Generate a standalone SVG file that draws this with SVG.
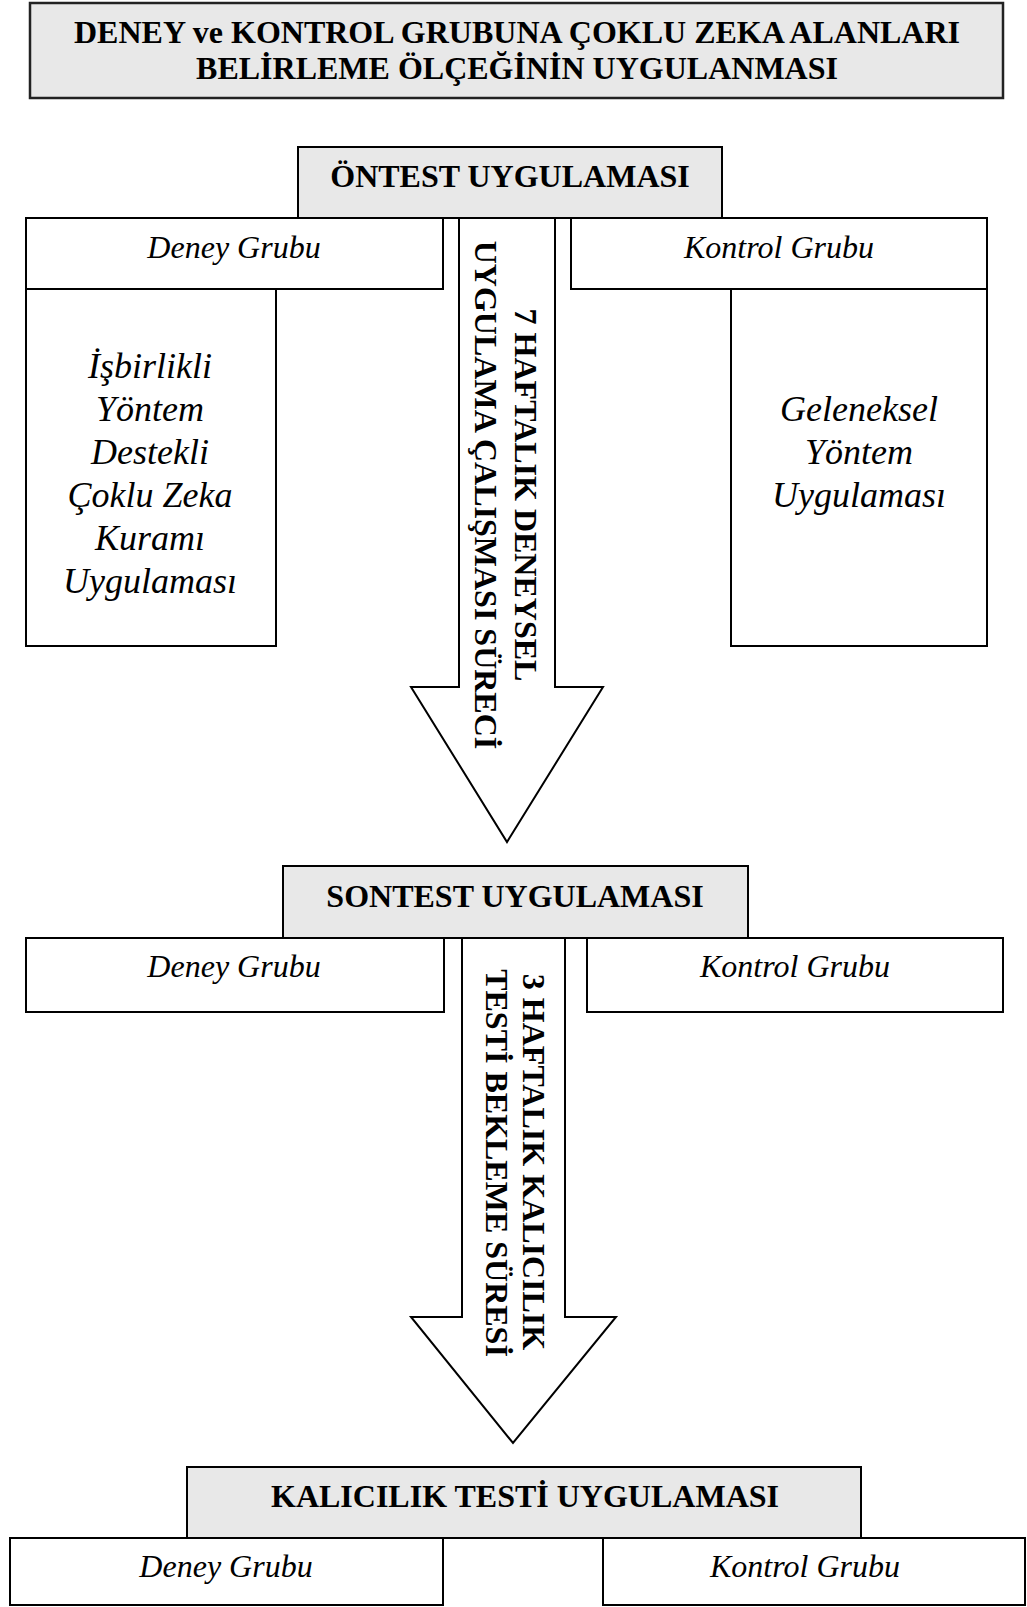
<svg xmlns="http://www.w3.org/2000/svg" width="1027" height="1607" viewBox="0 0 1027 1607">
<style>
.box{fill:#ffffff;stroke:#000;stroke-width:2}
.head{fill:#e8e8e8;stroke:#000;stroke-width:2}
.title{fill:#e8e8e8;stroke:#222;stroke-width:2.5}
.arrow{fill:#ffffff;stroke:#000;stroke-width:2;stroke-linejoin:miter}
.b{font-family:"Liberation Serif","Times New Roman",serif;font-weight:bold;font-size:32px;text-anchor:middle;fill:#000}
.i{font-family:"Liberation Serif","Times New Roman",serif;font-style:italic;font-size:32px;text-anchor:middle;fill:#000}
.il{font-family:"Liberation Serif","Times New Roman",serif;font-style:italic;font-size:36px;text-anchor:middle;fill:#000}
</style>
<rect width="1027" height="1607" fill="#ffffff"/>
<g id="connectors">
<polygon class="arrow" points="459,218 555,218 555,687 603,687 507,842 411,687 459,687"/>
<polygon class="arrow" points="462,938 565,938 565,1317 616,1317 513,1443 411,1317 462,1317"/>
<text class="b" transform="translate(515,495) rotate(90)">7 HAFTALIK DENEYSEL</text>
<text class="b" transform="translate(475,495) rotate(90)">UYGULAMA ÇALIŞMASI SÜRECİ</text>
<text class="b" transform="translate(523,1162) rotate(90)">3 HAFTALIK KALICILIK</text>
<text class="b" transform="translate(486,1163) rotate(90)">TESTİ BEKLEME SÜRESİ</text>
</g>
<g id="title">
<rect class="title" x="30" y="3" width="973" height="95"/>
<text class="b" x="517" y="43">DENEY ve KONTROL GRUBUNA ÇOKLU ZEKA ALANLARI</text>
<text class="b" x="517" y="79">BELİRLEME ÖLÇEĞİNİN UYGULANMASI</text>
</g>
<g id="ontest">
<rect class="head" x="298" y="147" width="424" height="71"/>
<text class="b" x="510" y="187">ÖNTEST UYGULAMASI</text>
</g>
<g id="deney1">
<rect class="box" x="26" y="218" width="417" height="71"/>
<text class="i" x="234" y="258">Deney Grubu</text>
</g>
<g id="kontrol1">
<rect class="box" x="571" y="218" width="416" height="71"/>
<text class="i" x="779" y="258">Kontrol Grubu</text>
</g>
<g id="deney-yontem">
<rect class="box" x="26" y="289" width="250" height="357"/>
<text class="il" x="150" y="378">İşbirlikli</text>
<text class="il" x="150" y="421">Yöntem</text>
<text class="il" x="150" y="464">Destekli</text>
<text class="il" x="150" y="507">Çoklu Zeka</text>
<text class="il" x="150" y="550">Kuramı</text>
<text class="il" x="150" y="593">Uygulaması</text>
</g>
<g id="kontrol-yontem">
<rect class="box" x="731" y="289" width="256" height="357"/>
<text class="il" x="859" y="421">Geleneksel</text>
<text class="il" x="859" y="464">Yöntem</text>
<text class="il" x="859" y="507">Uygulaması</text>
</g>
<g id="sontest">
<rect class="head" x="283" y="866" width="465" height="72"/>
<text class="b" x="515" y="907">SONTEST UYGULAMASI</text>
</g>
<g id="deney2">
<rect class="box" x="26" y="938" width="418" height="74"/>
<text class="i" x="234" y="977">Deney Grubu</text>
</g>
<g id="kontrol2">
<rect class="box" x="587" y="938" width="416" height="74"/>
<text class="i" x="795" y="977">Kontrol Grubu</text>
</g>
<g id="kalicilik">
<rect class="head" x="187" y="1467" width="674" height="71"/>
<text class="b" x="525" y="1507">KALICILIK TESTİ UYGULAMASI</text>
</g>
<g id="deney3">
<rect class="box" x="10" y="1538" width="433" height="67"/>
<text class="i" x="226" y="1577">Deney Grubu</text>
</g>
<g id="kontrol3">
<rect class="box" x="603" y="1538" width="422" height="67"/>
<text class="i" x="805" y="1577">Kontrol Grubu</text>
</g>
</svg>
